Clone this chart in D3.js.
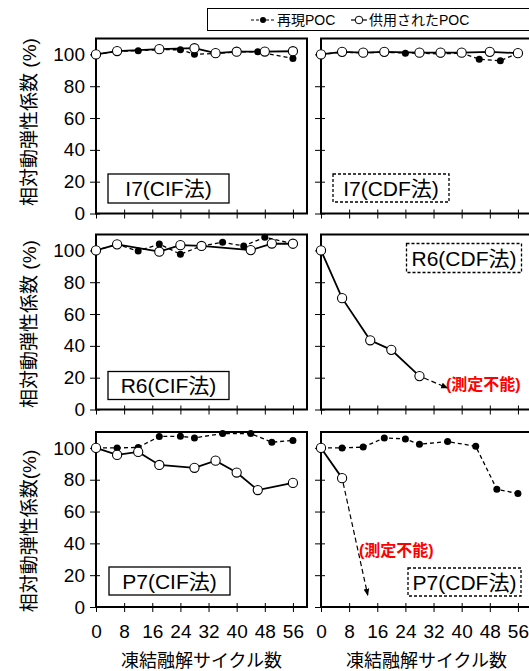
<!DOCTYPE html>
<html>
<head>
<meta charset="utf-8">
<script src="https://cdnjs.cloudflare.com/ajax/libs/d3/7.8.5/d3.min.js"></script>
<style>
  body { margin: 0; background: #fff; }
  svg { display: block; font-family: "Liberation Sans", Arial, "Noto Sans CJK JP", sans-serif; }
</style>
</head>
<body>
<svg id="chart" width="529" height="671"></svg>
<script>
// tick values
const cycleTicks = [0, 8, 16, 24, 32, 40, 48, 56];
const modulusTicks = [0, 20, 40, 60, 80, 100];

// 再現POC (filled, dashed) and 供用されたPOC (open, solid) : [cycles, %]
const i7CifRepro = [[0,100],[6,102],[12,102.3],[18,103],[24,102.9],[28,100.1],[34,100.6],[40,101.5],[46,101.7],[56,97.4]];
const i7CifField = [[0,100],[6,102.1],[18,103.3],[28,103.9],[34,100.8],[40,101.7],[48,101.8],[56,102]];
const i7CdfRepro = [[0,100],[6,101.4],[12,101],[18,101.4],[24,100.8],[28,100.8],[34,100.3],[40,100.8],[45,97],[51,96],[56,100.8]];
const i7CdfField = [[0,100],[6,101.6],[12,101.1],[18,101.6],[28,101.1],[34,101.1],[40,101.1],[48,101.6],[56,100.8]];
const r6CifRepro = [[0,100],[6,103.8],[12,99.6],[18,104],[24,97.6],[30,102.8],[36,105.1],[42,102.8],[48,108.3],[56,104.2]];
const r6CifField = [[0,100],[6,103.8],[18,99.2],[24,103.3],[30,102.8],[44,100.2],[50,104.3],[56,104.2]];
const r6CdfRepro = [];
const r6CdfField = [[0,100],[6,70],[14,43.5],[20,37.5],[28,21]];
const p7CifRepro = [[0,100],[6,100],[12,100.3],[18,107.2],[24,107.3],[28,106.3],[36,109],[44,109],[50,103.6],[56,104.7]];
const p7CifField = [[0,100],[6,95.6],[12,97.5],[18,89.3],[28,87.5],[34,92],[40,84.5],[46,73.5],[56,78]];
const p7CdfRepro = [[0,100],[6,100],[12,100.5],[18,106.3],[24,105.6],[28,102.3],[36,104],[44,101],[50,74],[56,71.3]];
const p7CdfField = [[0,100],[6,81]];

// "measurement impossible" arrows: from last point to [cycles, %]
const r6CdfArrow = [[28,21],[36,13.5]];
const p7CdfArrow = [[6,81],[13.3,7.4]];

const panelLabels = ["I7(CIF法)", "I7(CDF法)", "R6(CIF法)", "R6(CDF法)", "P7(CIF法)", "P7(CDF法)"];

// layout
const colX = [96, 321];
const rowY = [38.5, 234.5, 432];
const pw = 211, ph = 175;

const panels = [
  {col:0, row:0, repro:i7CifRepro, field:i7CifField, label:panelLabels[0], dash:false, box:[12,135.5,121,29]},
  {col:1, row:0, repro:i7CdfRepro, field:i7CdfField, label:panelLabels[1], dash:true,  box:[12,135.5,116,28]},
  {col:0, row:1, repro:r6CifRepro, field:r6CifField, label:panelLabels[2], dash:false, box:[12,137,121,28]},
  {col:1, row:1, repro:r6CdfRepro, field:r6CdfField, label:panelLabels[3], dash:true,  box:[85.5,9,115,29],
     arrow:r6CdfArrow, note:[446,390]},
  {col:0, row:2, repro:p7CifRepro, field:p7CifField, label:panelLabels[4], dash:false, box:[13,135,121,28]},
  {col:1, row:2, repro:p7CdfRepro, field:p7CdfField, label:panelLabels[5], dash:true,  box:[87,136,113,28],
     arrow:p7CdfArrow, note:[359,556]}
];

const svg = d3.select("#chart");

svg.append("defs").append("marker")
  .attr("id", "head")
  .attr("viewBox", "0 0 10 10")
  .attr("refX", 9).attr("refY", 5)
  .attr("markerWidth", 6).attr("markerHeight", 6)
  .attr("orient", "auto")
  .append("path").attr("d", "M0,1 L10,5 L0,9 Z").attr("fill", "#000");

panels.forEach(p => {
  const x0 = colX[p.col], y0 = rowY[p.row];
  const x = d3.scaleLinear().domain([0, 60]).range([x0, x0 + pw]);
  const y = d3.scaleLinear().domain([0, 110]).range([y0 + ph, y0]);
  const g = svg.append("g");

  // y axis
  const ya = g.append("g")
    .attr("transform", `translate(${x0},0)`)
    .call(d3.axisLeft(y).tickValues(modulusTicks).tickSizeOuter(0).tickSizeInner(6).tickPadding(5)
      .tickFormat(p.col === 0 ? d3.format("d") : ""));
  ya.select(".domain").remove();
  ya.selectAll(".tick line").attr("x1", 4).attr("x2", -6).attr("stroke", "#000");
  ya.selectAll(".tick text").attr("font-size", 19).attr("fill", "#000")
    .attr("font-family", "Liberation Sans, Arial");

  // x axis
  const xa = g.append("g")
    .attr("transform", `translate(0,${y0 + ph})`)
    .call(d3.axisBottom(x).tickValues(cycleTicks).tickSizeOuter(0).tickSizeInner(5).tickPadding(13)
      .tickFormat(p.row === 2 ? d3.format("d") : ""));
  xa.select(".domain").remove();
  xa.selectAll(".tick line").attr("y1", -4).attr("y2", 5).attr("stroke", "#000");
  xa.selectAll(".tick text").attr("font-size", 19).attr("fill", "#000")
    .attr("font-family", "Liberation Sans, Arial");

  // frame
  g.append("rect")
    .attr("x", x0).attr("y", y0).attr("width", pw).attr("height", ph)
    .attr("fill", "none").attr("stroke", "#000").attr("stroke-width", 2);

  const line = d3.line().x(d => x(d[0])).y(d => y(d[1]));

  if (p.repro.length) {
    g.append("path").datum(p.repro).attr("d", line)
      .attr("fill", "none").attr("stroke", "#000").attr("stroke-width", 1.3)
      .attr("stroke-dasharray", "4,3");
  }
  g.append("path").datum(p.field).attr("d", line)
    .attr("fill", "none").attr("stroke", "#000").attr("stroke-width", 1.8);

  if (p.arrow) {
    const a = p.arrow;
    const dx = x(a[1][0]) - x(a[0][0]), dy = y(a[1][1]) - y(a[0][1]);
    const len = Math.hypot(dx, dy);
    g.append("line")
      .attr("x1", x(a[0][0]) + dx / len * 5).attr("y1", y(a[0][1]) + dy / len * 5)
      .attr("x2", x(a[1][0])).attr("y2", y(a[1][1]))
      .attr("stroke", "#000").attr("stroke-width", 1.2)
      .attr("stroke-dasharray", "5,3")
      .attr("marker-end", "url(#head)");
  }

  g.selectAll(".rep").data(p.repro).join("circle")
    .attr("cx", d => x(d[0])).attr("cy", d => y(d[1])).attr("r", 3.5)
    .attr("fill", "#000");
  g.selectAll(".fld").data(p.field).join("circle")
    .attr("cx", d => x(d[0])).attr("cy", d => y(d[1])).attr("r", 4.6)
    .attr("fill", "#fff").attr("stroke", "#000").attr("stroke-width", 1.1);

  // label box
  const b = p.box;
  g.append("rect")
    .attr("x", x0 + b[0]).attr("y", y0 + b[1]).attr("width", b[2]).attr("height", b[3])
    .attr("fill", "#fff").attr("stroke", "#000").attr("stroke-width", 1.3)
    .attr("stroke-dasharray", p.dash ? "3,2" : null);
  g.append("text")
    .attr("x", x0 + b[0] + b[2] / 2).attr("y", y0 + b[1] + b[3] / 2 + 7.5)
    .attr("text-anchor", "middle").attr("font-size", 21).text(p.label);

  if (p.note) {
    g.append("text").attr("x", p.note[0]).attr("y", p.note[1])
      .attr("font-size", 16).attr("font-weight", "bold").attr("fill", "#ff0000")
      .text("(測定不能)");
  }
});

// y titles
const yTitles = ["相対動弾性係数 (%)", "相対動弾性係数 (%)", "相対動弾性係数(%)"];
const yTitleCenters = [122, 324, 531];
yTitles.forEach((t, i) => {
  svg.append("text")
    .attr("transform", `translate(36,${yTitleCenters[i]}) rotate(-90)`)
    .attr("text-anchor", "middle").attr("font-size", 19).text(t);
});

// x titles
colX.forEach(cx => {
  svg.append("text")
    .attr("x", cx + pw / 2).attr("y", 667)
    .attr("text-anchor", "middle").attr("font-size", 18).text("凍結融解サイクル数");
});

// legend
const lg = svg.append("g");
lg.append("rect").attr("x", 207.5).attr("y", 8.5).attr("width", 340).attr("height", 22)
  .attr("fill", "#fff").attr("stroke", "#000").attr("stroke-width", 1);
lg.append("line").attr("x1", 251).attr("x2", 275).attr("y1", 20).attr("y2", 20)
  .attr("stroke", "#000").attr("stroke-width", 1.2).attr("stroke-dasharray", "3,2");
lg.append("circle").attr("cx", 263).attr("cy", 20).attr("r", 3).attr("fill", "#000");
lg.append("text").attr("x", 277).attr("y", 25).attr("font-size", 14).text("再現POC");
lg.append("line").attr("x1", 351).attr("x2", 367).attr("y1", 20).attr("y2", 20)
  .attr("stroke", "#000").attr("stroke-width", 1.2);
lg.append("circle").attr("cx", 359).attr("cy", 20).attr("r", 3.8)
  .attr("fill", "#fff").attr("stroke", "#000").attr("stroke-width", 1);
lg.append("text").attr("x", 369).attr("y", 25).attr("font-size", 14).text("供用されたPOC");
</script>
</body>
</html>
